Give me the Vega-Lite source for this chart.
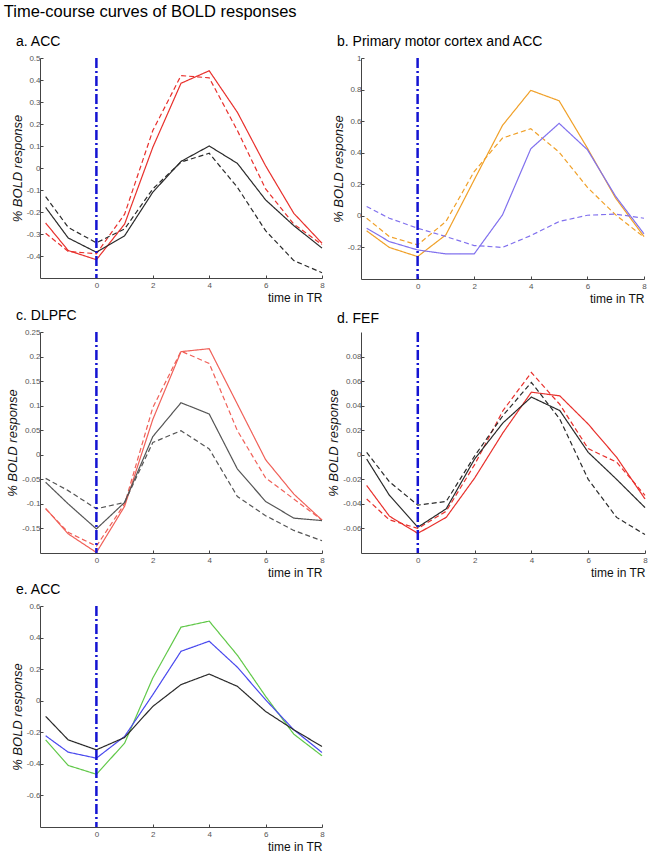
{
  "$schema": "https://vega.github.io/schema/vega-lite/v6.json",
  "padding": {"left": 3, "top": 3, "right": 5, "bottom": 2},
  "background": "white",
  "title": {"text": "Time-course curves of BOLD responses", "fontSize": 16.5, "anchor": "start", "frame": "bounds", "offset": 15, "dx": -3},
  "datasets": {
    "bold": [
      {"p":"a","c":"red","s":"solid","x":-1.8,"y":-0.25},{"p":"a","c":"red","s":"solid","x":-1,"y":-0.375},{"p":"a","c":"red","s":"solid","x":0,"y":-0.417},{"p":"a","c":"red","s":"solid","x":1,"y":-0.255},{"p":"a","c":"red","s":"solid","x":2,"y":0.094},{"p":"a","c":"red","s":"solid","x":3,"y":0.385},{"p":"a","c":"red","s":"solid","x":4,"y":0.442},{"p":"a","c":"red","s":"solid","x":5,"y":0.253},{"p":"a","c":"red","s":"solid","x":6,"y":0.01},{"p":"a","c":"red","s":"solid","x":7,"y":-0.206},{"p":"a","c":"red","s":"solid","x":8,"y":-0.342},
      {"p":"a","c":"red","s":"dashed","x":-1.8,"y":-0.297},{"p":"a","c":"red","s":"dashed","x":-1,"y":-0.379},{"p":"a","c":"red","s":"dashed","x":0,"y":-0.39},{"p":"a","c":"red","s":"dashed","x":1,"y":-0.21},{"p":"a","c":"red","s":"dashed","x":2,"y":0.17},{"p":"a","c":"red","s":"dashed","x":3,"y":0.42},{"p":"a","c":"red","s":"dashed","x":4,"y":0.41},{"p":"a","c":"red","s":"dashed","x":5,"y":0.17},{"p":"a","c":"red","s":"dashed","x":6,"y":-0.095},{"p":"a","c":"red","s":"dashed","x":7,"y":-0.255},{"p":"a","c":"red","s":"dashed","x":8,"y":-0.348},
      {"p":"a","c":"black","s":"solid","x":-1.8,"y":-0.179},{"p":"a","c":"black","s":"solid","x":-1,"y":-0.318},{"p":"a","c":"black","s":"solid","x":0,"y":-0.383},{"p":"a","c":"black","s":"solid","x":1,"y":-0.308},{"p":"a","c":"black","s":"solid","x":2,"y":-0.11},{"p":"a","c":"black","s":"solid","x":3,"y":0.03},{"p":"a","c":"black","s":"solid","x":4,"y":0.1},{"p":"a","c":"black","s":"solid","x":5,"y":0.021},{"p":"a","c":"black","s":"solid","x":6,"y":-0.145},{"p":"a","c":"black","s":"solid","x":7,"y":-0.262},{"p":"a","c":"black","s":"solid","x":8,"y":-0.364},
      {"p":"a","c":"black","s":"dashed","x":-1.8,"y":-0.13},{"p":"a","c":"black","s":"dashed","x":-1,"y":-0.27},{"p":"a","c":"black","s":"dashed","x":0,"y":-0.34},{"p":"a","c":"black","s":"dashed","x":1,"y":-0.277},{"p":"a","c":"black","s":"dashed","x":2,"y":-0.095},{"p":"a","c":"black","s":"dashed","x":3,"y":0.027},{"p":"a","c":"black","s":"dashed","x":4,"y":0.067},{"p":"a","c":"black","s":"dashed","x":5,"y":-0.088},{"p":"a","c":"black","s":"dashed","x":6,"y":-0.285},{"p":"a","c":"black","s":"dashed","x":7,"y":-0.421},{"p":"a","c":"black","s":"dashed","x":8,"y":-0.476},

      {"p":"b","c":"orange","s":"solid","x":-1.8,"y":-0.095},{"p":"b","c":"orange","s":"solid","x":-1,"y":-0.2},{"p":"b","c":"orange","s":"solid","x":0,"y":-0.258},{"p":"b","c":"orange","s":"solid","x":1,"y":-0.12},{"p":"b","c":"orange","s":"solid","x":2,"y":0.228},{"p":"b","c":"orange","s":"solid","x":3,"y":0.573},{"p":"b","c":"orange","s":"solid","x":4,"y":0.795},{"p":"b","c":"orange","s":"solid","x":5,"y":0.729},{"p":"b","c":"orange","s":"solid","x":6,"y":0.429},{"p":"b","c":"orange","s":"solid","x":7,"y":0.112},{"p":"b","c":"orange","s":"solid","x":8,"y":-0.131},
      {"p":"b","c":"orange","s":"dashed","x":-1.8,"y":-0.015},{"p":"b","c":"orange","s":"dashed","x":-1,"y":-0.131},{"p":"b","c":"orange","s":"dashed","x":0,"y":-0.184},{"p":"b","c":"orange","s":"dashed","x":1,"y":-0.036},{"p":"b","c":"orange","s":"dashed","x":2,"y":0.281},{"p":"b","c":"orange","s":"dashed","x":3,"y":0.493},{"p":"b","c":"orange","s":"dashed","x":4,"y":0.552},{"p":"b","c":"orange","s":"dashed","x":5,"y":0.404},{"p":"b","c":"orange","s":"dashed","x":6,"y":0.18},{"p":"b","c":"orange","s":"dashed","x":7,"y":0.006},{"p":"b","c":"orange","s":"dashed","x":8,"y":-0.135},
      {"p":"b","c":"purple","s":"solid","x":-1.8,"y":-0.078},{"p":"b","c":"purple","s":"solid","x":-1,"y":-0.163},{"p":"b","c":"purple","s":"solid","x":0,"y":-0.216},{"p":"b","c":"purple","s":"solid","x":1,"y":-0.241},{"p":"b","c":"purple","s":"solid","x":2,"y":-0.241},{"p":"b","c":"purple","s":"solid","x":3,"y":0.006},{"p":"b","c":"purple","s":"solid","x":4,"y":0.425},{"p":"b","c":"purple","s":"solid","x":5,"y":0.586},{"p":"b","c":"purple","s":"solid","x":6,"y":0.419},{"p":"b","c":"purple","s":"solid","x":7,"y":0.123},{"p":"b","c":"purple","s":"solid","x":8,"y":-0.114},
      {"p":"b","c":"purple","s":"dashed","x":-1.8,"y":0.059},{"p":"b","c":"purple","s":"dashed","x":-1,"y":-0.015},{"p":"b","c":"purple","s":"dashed","x":0,"y":-0.078},{"p":"b","c":"purple","s":"dashed","x":1,"y":-0.131},{"p":"b","c":"purple","s":"dashed","x":2,"y":-0.188},{"p":"b","c":"purple","s":"dashed","x":3,"y":-0.2},{"p":"b","c":"purple","s":"dashed","x":4,"y":-0.125},{"p":"b","c":"purple","s":"dashed","x":5,"y":-0.036},{"p":"b","c":"purple","s":"dashed","x":6,"y":0.004},{"p":"b","c":"purple","s":"dashed","x":7,"y":0.011},{"p":"b","c":"purple","s":"dashed","x":8,"y":-0.015},

      {"p":"c","c":"light red","s":"solid","x":-1.8,"y":-0.109},{"p":"c","c":"light red","s":"solid","x":-1,"y":-0.161},{"p":"c","c":"light red","s":"solid","x":0,"y":-0.199},{"p":"c","c":"light red","s":"solid","x":1,"y":-0.105},{"p":"c","c":"light red","s":"solid","x":2,"y":0.072},{"p":"c","c":"light red","s":"solid","x":3,"y":0.21},{"p":"c","c":"light red","s":"solid","x":4,"y":0.216},{"p":"c","c":"light red","s":"solid","x":5,"y":0.103},{"p":"c","c":"light red","s":"solid","x":6,"y":-0.01},{"p":"c","c":"light red","s":"solid","x":7,"y":-0.08},{"p":"c","c":"light red","s":"solid","x":8,"y":-0.133},
      {"p":"c","c":"light red","s":"dashed","x":-1.8,"y":-0.11},{"p":"c","c":"light red","s":"dashed","x":-1,"y":-0.158},{"p":"c","c":"light red","s":"dashed","x":0,"y":-0.186},{"p":"c","c":"light red","s":"dashed","x":1,"y":-0.1},{"p":"c","c":"light red","s":"dashed","x":2,"y":0.096},{"p":"c","c":"light red","s":"dashed","x":3,"y":0.211},{"p":"c","c":"light red","s":"dashed","x":4,"y":0.186},{"p":"c","c":"light red","s":"dashed","x":5,"y":0.049},{"p":"c","c":"light red","s":"dashed","x":6,"y":-0.047},{"p":"c","c":"light red","s":"dashed","x":7,"y":-0.09},{"p":"c","c":"light red","s":"dashed","x":8,"y":-0.133},
      {"p":"c","c":"gray","s":"solid","x":-1.8,"y":-0.056},{"p":"c","c":"gray","s":"solid","x":-1,"y":-0.1},{"p":"c","c":"gray","s":"solid","x":0,"y":-0.151},{"p":"c","c":"gray","s":"solid","x":1,"y":-0.097},{"p":"c","c":"gray","s":"solid","x":2,"y":0.037},{"p":"c","c":"gray","s":"solid","x":3,"y":0.106},{"p":"c","c":"gray","s":"solid","x":4,"y":0.083},{"p":"c","c":"gray","s":"solid","x":5,"y":-0.029},{"p":"c","c":"gray","s":"solid","x":6,"y":-0.095},{"p":"c","c":"gray","s":"solid","x":7,"y":-0.129},{"p":"c","c":"gray","s":"solid","x":8,"y":-0.134},
      {"p":"c","c":"gray","s":"dashed","x":-1.8,"y":-0.048},{"p":"c","c":"gray","s":"dashed","x":-1,"y":-0.073},{"p":"c","c":"gray","s":"dashed","x":0,"y":-0.11},{"p":"c","c":"gray","s":"dashed","x":1,"y":-0.097},{"p":"c","c":"gray","s":"dashed","x":2,"y":0.025},{"p":"c","c":"gray","s":"dashed","x":3,"y":0.049},{"p":"c","c":"gray","s":"dashed","x":4,"y":0.012},{"p":"c","c":"gray","s":"dashed","x":5,"y":-0.085},{"p":"c","c":"gray","s":"dashed","x":6,"y":-0.124},{"p":"c","c":"gray","s":"dashed","x":7,"y":-0.154},{"p":"c","c":"gray","s":"dashed","x":8,"y":-0.175},

      {"p":"d","c":"red","s":"solid","x":-1.8,"y":-0.025},{"p":"d","c":"red","s":"solid","x":-1,"y":-0.05},{"p":"d","c":"red","s":"solid","x":0,"y":-0.064},{"p":"d","c":"red","s":"solid","x":1,"y":-0.051},{"p":"d","c":"red","s":"solid","x":2,"y":-0.019},{"p":"d","c":"red","s":"solid","x":3,"y":0.018},{"p":"d","c":"red","s":"solid","x":4,"y":0.051},{"p":"d","c":"red","s":"solid","x":5,"y":0.048},{"p":"d","c":"red","s":"solid","x":6,"y":0.025},{"p":"d","c":"red","s":"solid","x":7,"y":-0.002},{"p":"d","c":"red","s":"solid","x":8,"y":-0.036},
      {"p":"d","c":"red","s":"dashed","x":-1.8,"y":-0.036},{"p":"d","c":"red","s":"dashed","x":-1,"y":-0.053},{"p":"d","c":"red","s":"dashed","x":0,"y":-0.06},{"p":"d","c":"red","s":"dashed","x":1,"y":-0.046},{"p":"d","c":"red","s":"dashed","x":2,"y":-0.008},{"p":"d","c":"red","s":"dashed","x":3,"y":0.036},{"p":"d","c":"red","s":"dashed","x":4,"y":0.067},{"p":"d","c":"red","s":"dashed","x":5,"y":0.041},{"p":"d","c":"red","s":"dashed","x":6,"y":0.005},{"p":"d","c":"red","s":"dashed","x":7,"y":-0.006},{"p":"d","c":"red","s":"dashed","x":8,"y":-0.033},
      {"p":"d","c":"black","s":"solid","x":-1.8,"y":-0.0035},{"p":"d","c":"black","s":"solid","x":-1,"y":-0.033},{"p":"d","c":"black","s":"solid","x":0,"y":-0.059},{"p":"d","c":"black","s":"solid","x":1,"y":-0.044},{"p":"d","c":"black","s":"solid","x":2,"y":-0.0035},{"p":"d","c":"black","s":"solid","x":3,"y":0.026},{"p":"d","c":"black","s":"solid","x":4,"y":0.047},{"p":"d","c":"black","s":"solid","x":5,"y":0.036},{"p":"d","c":"black","s":"solid","x":6,"y":0.002},{"p":"d","c":"black","s":"solid","x":7,"y":-0.02},{"p":"d","c":"black","s":"solid","x":8,"y":-0.043},
      {"p":"d","c":"black","s":"dashed","x":-1.8,"y":0.002},{"p":"d","c":"black","s":"dashed","x":-1,"y":-0.022},{"p":"d","c":"black","s":"dashed","x":0,"y":-0.041},{"p":"d","c":"black","s":"dashed","x":1,"y":-0.038},{"p":"d","c":"black","s":"dashed","x":2,"y":-0.001},{"p":"d","c":"black","s":"dashed","x":3,"y":0.032},{"p":"d","c":"black","s":"dashed","x":4,"y":0.059},{"p":"d","c":"black","s":"dashed","x":5,"y":0.029},{"p":"d","c":"black","s":"dashed","x":6,"y":-0.02},{"p":"d","c":"black","s":"dashed","x":7,"y":-0.051},{"p":"d","c":"black","s":"dashed","x":8,"y":-0.065},

      {"p":"e","c":"green","s":"solid","x":-1.8,"y":-0.248},{"p":"e","c":"green","s":"solid","x":-1,"y":-0.41},{"p":"e","c":"green","s":"solid","x":0,"y":-0.466},{"p":"e","c":"green","s":"solid","x":1,"y":-0.269},{"p":"e","c":"green","s":"solid","x":2,"y":0.144},{"p":"e","c":"green","s":"solid","x":3,"y":0.466},{"p":"e","c":"green","s":"solid","x":4,"y":0.504},{"p":"e","c":"green","s":"solid","x":5,"y":0.288},{"p":"e","c":"green","s":"solid","x":6,"y":0.028},{"p":"e","c":"green","s":"solid","x":7,"y":-0.212},{"p":"e","c":"green","s":"solid","x":8,"y":-0.349},
      {"p":"e","c":"blue","s":"solid","x":-1.8,"y":-0.222},{"p":"e","c":"blue","s":"solid","x":-1,"y":-0.326},{"p":"e","c":"blue","s":"solid","x":0,"y":-0.364},{"p":"e","c":"blue","s":"solid","x":1,"y":-0.226},{"p":"e","c":"blue","s":"solid","x":2,"y":0.038},{"p":"e","c":"blue","s":"solid","x":3,"y":0.313},{"p":"e","c":"blue","s":"solid","x":4,"y":0.377},{"p":"e","c":"blue","s":"solid","x":5,"y":0.212},{"p":"e","c":"blue","s":"solid","x":6,"y":0.006},{"p":"e","c":"blue","s":"solid","x":7,"y":-0.184},{"p":"e","c":"blue","s":"solid","x":8,"y":-0.328},
      {"p":"e","c":"black","s":"solid","x":-1.8,"y":-0.099},{"p":"e","c":"black","s":"solid","x":-1,"y":-0.248},{"p":"e","c":"black","s":"solid","x":0,"y":-0.311},{"p":"e","c":"black","s":"solid","x":1,"y":-0.233},{"p":"e","c":"black","s":"solid","x":2,"y":-0.036},{"p":"e","c":"black","s":"solid","x":3,"y":0.102},{"p":"e","c":"black","s":"solid","x":4,"y":0.169},{"p":"e","c":"black","s":"solid","x":5,"y":0.091},{"p":"e","c":"black","s":"solid","x":6,"y":-0.068},{"p":"e","c":"black","s":"solid","x":7,"y":-0.184},{"p":"e","c":"black","s":"solid","x":8,"y":-0.29}
    ],
    "onset": [{"t": 0}]
  },
  "columns": 2,
  "bounds": "flush",
  "spacing": {"row": 53, "column": 39},
  "concat": [
    {
      "width": 282, "height": 220,
      "title": {"text": "a. ACC"},
      "layer": [
        {
          "data": {"name": "bold"},
          "transform": [{"filter": "datum.p === 'a'"}],
          "mark": {"type": "line", "strokeWidth": 1.2},
          "encoding": {
            "x": {"field": "x", "type": "quantitative", "scale": {"domain": [-2, 8], "nice": false, "zero": false}, "axis": {"values": [0, 2, 4, 6, 8], "title": "time in TR"}},
            "y": {"field": "y", "type": "quantitative", "scale": {"domain": [-0.5, 0.5], "nice": false, "zero": false}, "axis": {"values": [-0.4, -0.3, -0.2, -0.1, 0, 0.1, 0.2, 0.3, 0.4, 0.5], "title": "% BOLD response"}},
            "color": {"field": "c", "type": "nominal", "legend": null, "scale": {"domain": ["red", "black", "orange", "purple", "light red", "gray", "green", "blue"], "range": ["#e8302c", "#2a2a2a", "#f0a028", "#8070ee", "#f06058", "#555555", "#60c848", "#4848ee"]}},
            "strokeDash": {"field": "s", "type": "nominal", "legend": null, "scale": {"domain": ["solid", "dashed"], "range": [[1, 0], [5, 3]]}}
          }
        },
        {
          "data": {"name": "onset"},
          "mark": {"type": "rule", "color": "#1414d2", "strokeWidth": 2.5, "strokeDash": [10, 3, 2, 3]},
          "encoding": {"x": {"field": "t", "type": "quantitative"}}
        }
      ]
    },
    {
      "width": 283, "height": 221,
      "title": {"text": "b. Primary motor cortex and ACC"},
      "layer": [
        {
          "data": {"name": "bold"},
          "transform": [{"filter": "datum.p === 'b'"}],
          "mark": {"type": "line", "strokeWidth": 1.2},
          "encoding": {
            "x": {"field": "x", "type": "quantitative", "scale": {"domain": [-2, 8], "nice": false, "zero": false}, "axis": {"values": [0, 2, 4, 6, 8], "title": "time in TR"}},
            "y": {"field": "y", "type": "quantitative", "scale": {"domain": [-0.4, 1], "nice": false, "zero": false}, "axis": {"values": [-0.2, 0, 0.2, 0.4, 0.6, 0.8, 1], "title": "% BOLD response"}},
            "color": {"field": "c", "type": "nominal", "legend": null, "scale": {"domain": ["red", "black", "orange", "purple", "light red", "gray", "green", "blue"], "range": ["#e8302c", "#2a2a2a", "#f0a028", "#8070ee", "#f06058", "#555555", "#60c848", "#4848ee"]}},
            "strokeDash": {"field": "s", "type": "nominal", "legend": null, "scale": {"domain": ["solid", "dashed"], "range": [[1, 0], [5, 3]]}}
          }
        },
        {
          "data": {"name": "onset"},
          "mark": {"type": "rule", "color": "#1414d2", "strokeWidth": 2.5, "strokeDash": [10, 3, 2, 3]},
          "encoding": {"x": {"field": "t", "type": "quantitative"}}
        }
      ]
    },
    {
      "width": 282, "height": 221,
      "title": {"text": "c. DLPFC"},
      "layer": [
        {
          "data": {"name": "bold"},
          "transform": [{"filter": "datum.p === 'c'"}],
          "mark": {"type": "line", "strokeWidth": 1.2},
          "encoding": {
            "x": {"field": "x", "type": "quantitative", "scale": {"domain": [-2, 8], "nice": false, "zero": false}, "axis": {"values": [0, 2, 4, 6, 8], "title": "time in TR"}},
            "y": {"field": "y", "type": "quantitative", "scale": {"domain": [-0.2, 0.25], "nice": false, "zero": false}, "axis": {"values": [-0.15, -0.1, -0.05, 0, 0.05, 0.1, 0.15, 0.2, 0.25], "title": "% BOLD response"}},
            "color": {"field": "c", "type": "nominal", "legend": null, "scale": {"domain": ["red", "black", "orange", "purple", "light red", "gray", "green", "blue"], "range": ["#e8302c", "#2a2a2a", "#f0a028", "#8070ee", "#f06058", "#555555", "#60c848", "#4848ee"]}},
            "strokeDash": {"field": "s", "type": "nominal", "legend": null, "scale": {"domain": ["solid", "dashed"], "range": [[1, 0], [7, 3]]}}
          }
        },
        {
          "data": {"name": "onset"},
          "mark": {"type": "rule", "color": "#1414d2", "strokeWidth": 2.5, "strokeDash": [10, 3, 2, 3]},
          "encoding": {"x": {"field": "t", "type": "quantitative"}}
        }
      ]
    },
    {
      "width": 284, "height": 221,
      "title": {"text": "d. FEF"},
      "layer": [
        {
          "data": {"name": "bold"},
          "transform": [{"filter": "datum.p === 'd'"}],
          "mark": {"type": "line", "strokeWidth": 1.2},
          "encoding": {
            "x": {"field": "x", "type": "quantitative", "scale": {"domain": [-2, 8], "nice": false, "zero": false}, "axis": {"values": [0, 2, 4, 6, 8], "title": "time in TR"}},
            "y": {"field": "y", "type": "quantitative", "scale": {"domain": [-0.08, 0.1], "nice": false, "zero": false}, "axis": {"values": [-0.06, -0.04, -0.02, 0, 0.02, 0.04, 0.06, 0.08], "title": "% BOLD response"}},
            "color": {"field": "c", "type": "nominal", "legend": null, "scale": {"domain": ["red", "black", "orange", "purple", "light red", "gray", "green", "blue"], "range": ["#e8302c", "#2a2a2a", "#f0a028", "#8070ee", "#f06058", "#555555", "#60c848", "#4848ee"]}},
            "strokeDash": {"field": "s", "type": "nominal", "legend": null, "scale": {"domain": ["solid", "dashed"], "range": [[1, 0], [5, 3]]}}
          }
        },
        {
          "data": {"name": "onset"},
          "mark": {"type": "rule", "color": "#1414d2", "strokeWidth": 2.5, "strokeDash": [10, 3, 2, 3]},
          "encoding": {"x": {"field": "t", "type": "quantitative"}}
        }
      ]
    },
    {
      "width": 282, "height": 221,
      "title": {"text": "e. ACC"},
      "layer": [
        {
          "data": {"name": "bold"},
          "transform": [{"filter": "datum.p === 'e'"}],
          "mark": {"type": "line", "strokeWidth": 1.2},
          "encoding": {
            "x": {"field": "x", "type": "quantitative", "scale": {"domain": [-2, 8], "nice": false, "zero": false}, "axis": {"values": [0, 2, 4, 6, 8], "title": "time in TR"}},
            "y": {"field": "y", "type": "quantitative", "scale": {"domain": [-0.8, 0.6], "nice": false, "zero": false}, "axis": {"values": [-0.6, -0.4, -0.2, 0, 0.2, 0.4, 0.6], "title": "% BOLD response"}},
            "color": {"field": "c", "type": "nominal", "legend": null, "scale": {"domain": ["red", "black", "orange", "purple", "light red", "gray", "green", "blue"], "range": ["#e8302c", "#2a2a2a", "#f0a028", "#8070ee", "#f06058", "#555555", "#60c848", "#4848ee"]}},
            "strokeDash": {"field": "s", "type": "nominal", "legend": null, "scale": {"domain": ["solid", "dashed"], "range": [[1, 0], [5, 3]]}}
          }
        },
        {
          "data": {"name": "onset"},
          "mark": {"type": "rule", "color": "#1414d2", "strokeWidth": 2.5, "strokeDash": [10, 3, 2, 3]},
          "encoding": {"x": {"field": "t", "type": "quantitative"}}
        }
      ]
    }
  ],
  "resolve": {"scale": {"x": "independent", "y": "independent"}},
  "config": {
    "font": "Liberation Sans",
    "view": {"stroke": null},
    "title": {"font": "Liberation Sans", "fontSize": 14, "fontWeight": "normal", "anchor": "start", "frame": "group", "dx": -24, "offset": 5, "color": "#000000"},
    "axis": {
      "grid": false,
      "domainColor": "#444444",
      "domainWidth": 1,
      "tickColor": "#444444",
      "tickSize": -3,
      "labelColor": "#555555",
      "labelFontSize": 8,
      "labelFont": "Liberation Sans",
      "labelPadding": 3,
      "labelFlush": false,
      "labelExpr": "replace(format(datum.value, '~g'), '\u2212', '-')",
      "titleFont": "Liberation Sans",
      "titleFontWeight": "normal",
      "titleColor": "#111111"
    },
    "axisX": {"titleAnchor": "end", "titleAlign": "right", "titleFontSize": 12, "titlePadding": 3, "labelPadding": 6},
    "axisY": {"titleFontSize": 13, "titleFontStyle": "italic", "titlePadding": 2}
  }
}
